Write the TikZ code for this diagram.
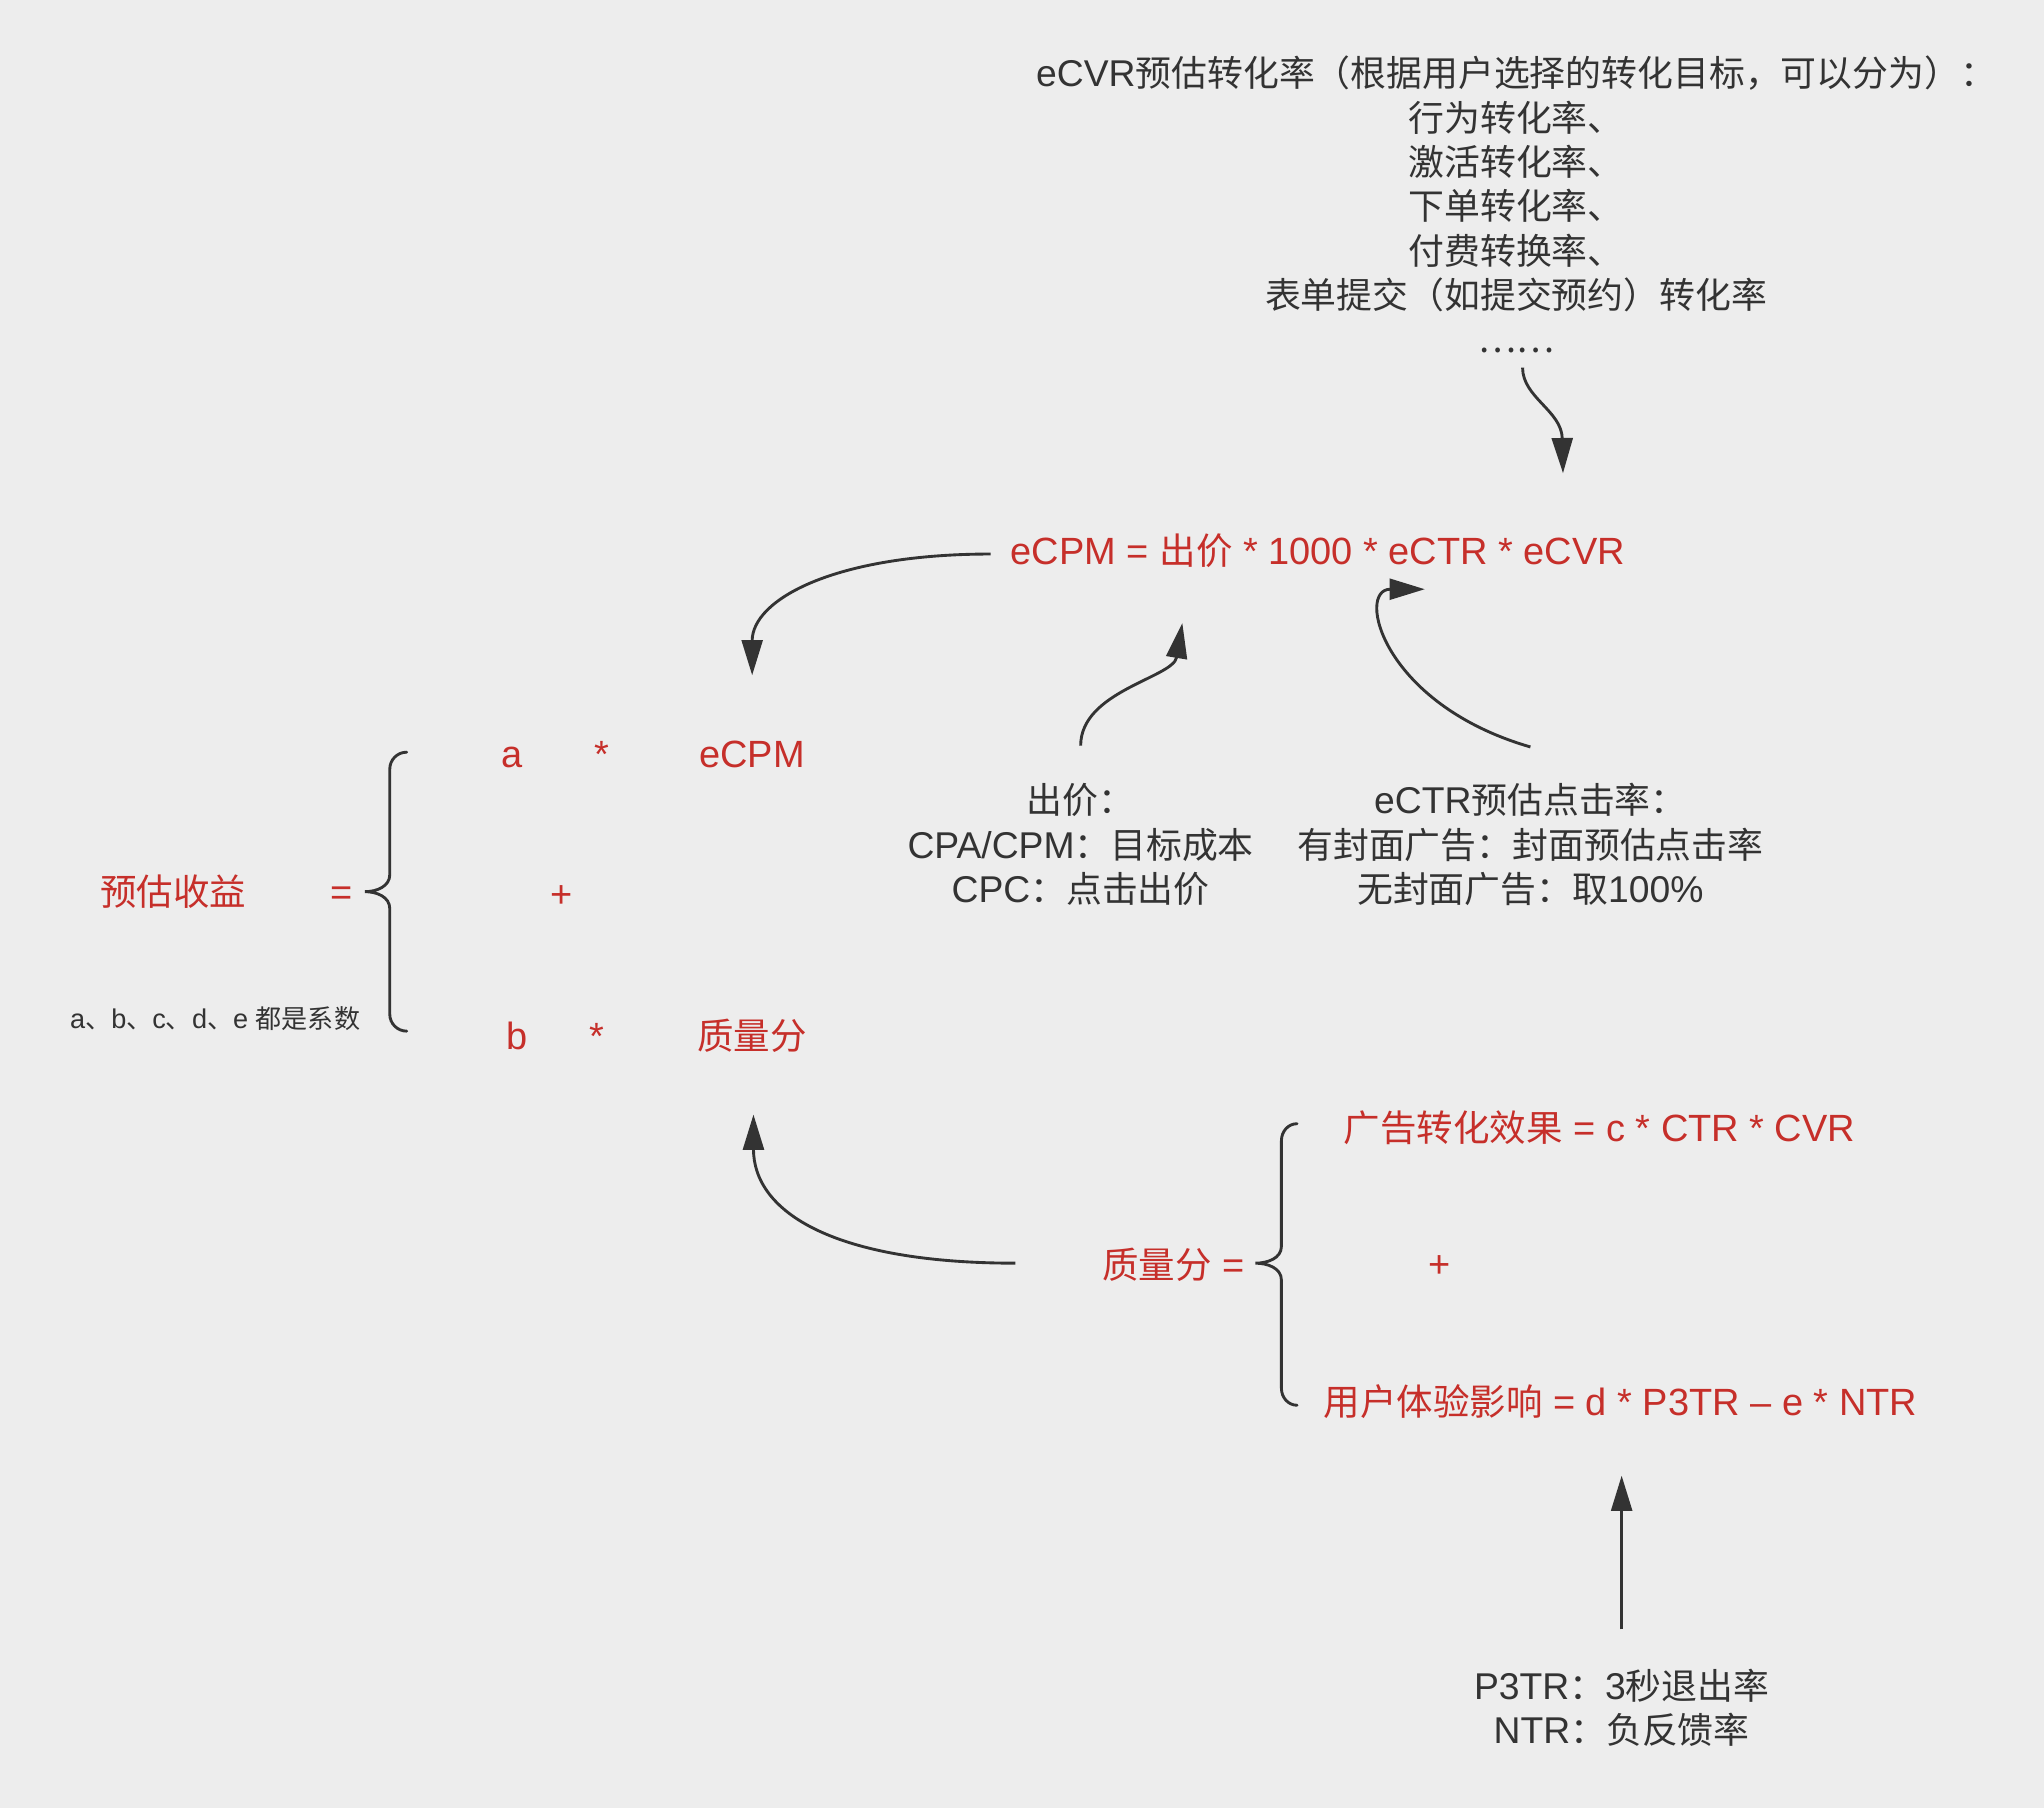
\documentclass[tikz,border=0pt]{standalone}
\usepackage{fontspec}
\setmainfont{Liberation Sans}[Scale=1.04]
\newfontfamily\cjk{Noto Sans CJK SC}
\newcommand{\zh}[1]{{\cjk #1}}
\usetikzlibrary{arrows.meta}

\definecolor{bgcol}{HTML}{EDEDED}
\definecolor{redtxt}{HTML}{C62F2A}
\definecolor{darktxt}{HTML}{333333}

\tikzset{
    formula/.style={text=redtxt, inner sep=0pt, anchor=base, font=\fontsize{28}{34}\selectfont},
    note/.style={text=darktxt, inner sep=0pt, align=center, font=\fontsize{27.5}{34}\selectfont},
    curvy/.style={draw=darktxt, line width=2.2pt, -{Triangle[length=27pt,width=16pt]}},
    bracket/.style={draw=darktxt, line width=2.2pt, line cap=round},
}

\begin{document}
\begin{tikzpicture}[x=1pt, y=-1pt]
        \fill[bgcol] (0, 0) rectangle (1568, 1387);
        \useasboundingbox (0, 0) rectangle (1568, 1387);

        % top: eCVR
        \node[note] (cvr) at (1163, 157) {eCVR\zh{预估转化率（根据用户选择的转化目标，可以分为）：}\\\zh{行为转化率、}\\\zh{激活转化率、}\\\zh{下单转化率、}\\\zh{付费转换率、}\\\zh{表单提交（如提交预约）转化率}\\\zh{……}};

        \node[formula] (ecpmf) at (1011, 433) {eCPM = \zh{出价} * 1000 * eCTR * eCVR};

        % left side
        \node[formula] (income) at (133, 695) {\zh{预估收益}};
        \node[formula] (eq) at (262, 695) {=};
        \node[formula] (a) at (393, 589) {a};
        \node[formula] (astar) at (462, 589) {*};
        \node[formula] (ecpm) at (577, 589) {eCPM};
        \node[formula] (plus) at (431, 696) {+};
        \node[formula] (b) at (397, 805) {b};
        \node[formula] (bstar) at (458, 805) {*};
        \node[formula] (score) at (577, 805) {\zh{质量分}};
        \node[text=darktxt, inner sep=0pt, anchor=base, font=\fontsize{20}{24}\selectfont] (coef) at (165, 789) {a\zh{、}b\zh{、}c\zh{、}d\zh{、}e \zh{都是系数}};

        \draw[bracket] (312, 577) to[out=180, in=90] (299, 590) -- (299, 671)
            to[out=-90, in=0] (280, 684) to[out=0, in=90] (299, 697) -- (299, 778)
            to[out=-90, in=180] (312, 791);

        % middle notes
        \node[note] (bid) at (829, 648) {\zh{出价：}\\CPA/CPM\zh{：目标成本}\\CPC\zh{：点击出价}};
        \node[note] (ctr) at (1174, 648) {eCTR\zh{预估点击率：}\\\zh{有封面广告：封面预估点击率}\\\zh{无封面广告：取}100\%};

        % quality score
        \node[formula] (scoreq) at (900, 981) {\zh{质量分} =};
        \node[formula] (conv) at (1227, 876) {\zh{广告转化效果} = c * CTR * CVR};
        \node[formula] (plus2) at (1104, 980) {+};
        \node[formula] (ux) at (1243, 1086) {\zh{用户体验影响} = d * P3TR – e * NTR};

        \draw[bracket] (995, 862) to[out=180, in=90] (983, 875) -- (983, 956)
            to[out=-90, in=0] (963, 969) to[out=0, in=90] (983, 982) -- (983, 1065)
            to[out=-90, in=180] (995, 1078);

        \node[note] (rates) at (1244, 1310) {P3TR\zh{：}3\zh{秒退出率}\\NTR\zh{：负反馈率}};

        % arrow ends
        \coordinate (cvrout) at (1168, 282);
        \coordinate (cvrin) at (1199, 363);
        \coordinate (ecpmout) at (760, 425);
        \coordinate (ecpmin) at (577, 518);
        \coordinate (bidout) at (829, 572);
        \coordinate (bidin) at (907, 478);
        \coordinate (ctrout) at (1174, 573);
        \coordinate (ctrin) at (1093, 452);
        \coordinate (scoreout) at (779, 969);
        \coordinate (scorein) at (578, 855);
        \coordinate (ratesout) at (1244, 1250);
        \coordinate (ratesin) at (1244, 1132);

        \draw[curvy] (cvrout) .. controls (1168, 305) and (1198, 315) .. (cvrin);
        \draw[curvy] (ecpmout) .. controls (640, 425) and (577, 460) .. (ecpmin);
        \draw[curvy] (bidout) .. controls (829, 530) and (900, 520) .. (bidin);
        \draw[curvy] (ctrout) .. controls (1060, 540) and (1040, 452) .. (ctrin);
        \draw[curvy] (scoreout) .. controls (640, 969) and (578, 930) .. (scorein);
        \draw[curvy] (ratesout) -- (ratesin);
    \end{tikzpicture}
\end{document}
